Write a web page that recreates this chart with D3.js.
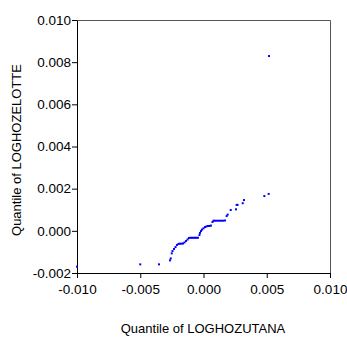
<!DOCTYPE html>
<html>
<head>
<meta charset="utf-8">
<script src="https://cdn.jsdelivr.net/npm/d3@7"></script>
<style>
  body { margin: 0; background: #fff; }
  text { font-family: Arial, "Liberation Sans", sans-serif; fill: #000; }
</style>
</head>
<body>
<div class="chart"></div>
<script>
// Quantile pairs
var qLoghozutana = [
  -0.0100, -0.00500, -0.00352, -0.00265, -0.00259, -0.00251, -0.00245, -0.00233,
  -0.00221, -0.00210, -0.00198, -0.00186, -0.00174, -0.00162, -0.00150, -0.00138,
  -0.00126, -0.00115, -0.00103, -0.00091, -0.00079, -0.00067, -0.00055, -0.00044,
  -0.00032, -0.00028, -0.00020, -0.00012, 0.00000, 0.00012, 0.00024, 0.00036,
  0.00047, 0.00059, 0.00071, 0.00079, 0.00091, 0.00107, 0.00123, 0.00138,
  0.00154, 0.00170, 0.00183, 0.00191, 0.00215, 0.00257, 0.00262, 0.00269,
  0.00310, 0.00320, 0.00481, 0.00515, 0.00518
];
var qLoghozelotte = [
  -0.00170, -0.00159, -0.00159, -0.00140, -0.00131, -0.00107, -0.00096, -0.00086,
  -0.00077, -0.00067, -0.00062, -0.00061, -0.00061, -0.00060, -0.00055, -0.00048,
  -0.00041, -0.00034, -0.00033, -0.00033, -0.00033, -0.00033, -0.00033, -0.00033,
  -0.00020, -0.00010, -0.00001, 0.00006, 0.00012, 0.00018, 0.00021, 0.00023,
  0.00023, 0.00025, 0.00042, 0.00048, 0.00048, 0.00048, 0.00048, 0.00048,
  0.00048, 0.00049, 0.00070, 0.00077, 0.00099, 0.00102, 0.00123, 0.00123,
  0.00131, 0.00146, 0.00165, 0.00175, 0.00829
];
var xTicks = [-0.010, -0.005, 0.000, 0.005, 0.010];
var yTicks = [-0.002, 0.000, 0.002, 0.004, 0.006, 0.008, 0.010];

var svgWidth = 347;
var svgHeight = 338;
var margin = { top: 20, right: 17, bottom: 65, left: 77 };
var width = svgWidth - margin.left - margin.right;
var height = svgHeight - margin.top - margin.bottom;

var svg = d3.select(".chart")
    .append("svg")
    .attr("width", svgWidth)
    .attr("height", svgHeight);

var chart = svg.append("g")
    .attr("transform", "translate(" + margin.left + "," + margin.top + ")");

var xScale = d3.scaleLinear().domain([-0.010, 0.010]).range([0, width]);
var yScale = d3.scaleLinear().domain([-0.002, 0.010]).range([height, 0]);

// frame (top and right)
chart.append("path")
    .attr("d", "M0,0.5H" + (width + 0.5) + "V" + height)
    .attr("fill", "none")
    .attr("stroke", "#555")
    .attr("stroke-width", 1);

var bottomAxis = d3.axisBottom(xScale)
    .tickValues(xTicks)
    .tickSize(5)
    .tickSizeOuter(0);

var leftAxis = d3.axisLeft(yScale)
    .tickValues(yTicks)
    .tickSize(5)
    .tickSizeOuter(0);

var gx = chart.append("g")
    .attr("transform", "translate(0," + height + ")")
    .call(bottomAxis);

var gy = chart.append("g").call(leftAxis);

// plain hyphen minus, three decimals
function fmt(d) { return d3.format(".3f")(d).replace("−", "-"); }

[gx, gy].forEach(function (g) {
    g.selectAll("text")
        .style("font-family", "Arial, 'Liberation Sans', sans-serif")
        .style("font-size", "13.5px")
        .attr("fill", "#000")
        .text(fmt);
    g.selectAll("line, path").attr("stroke", "#000");
});
gx.selectAll("text").attr("dy", "0.95em");
gy.selectAll("text").attr("x", -6);

// points
chart.append("g")
    .selectAll("rect")
    .data(qLoghozutana)
    .enter()
    .append("rect")
    .attr("x", function (d) { return xScale(d) - 1; })
    .attr("y", function (d, i) { return yScale(qLoghozelotte[i]) - 1; })
    .attr("width", 2)
    .attr("height", 2)
    .attr("fill", "#0000ff");

// axis titles
svg.append("text")
    .attr("x", 203)
    .attr("y", 333)
    .attr("text-anchor", "middle")
    .style("font-size", "13px")
    .text("Quantile of LOGHOZUTANA");

svg.append("text")
    .attr("transform", "translate(21," + 150 + ") rotate(-90)")
    .attr("text-anchor", "middle")
    .style("font-size", "13px")
    .text("Quantile of LOGHOZELOTTE");
</script>
</body>
</html>
